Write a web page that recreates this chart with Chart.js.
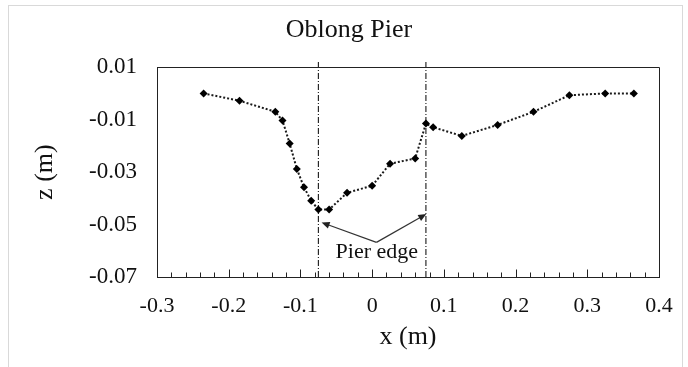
<!DOCTYPE html>
<html>
<head>
<meta charset="utf-8">
<script src="https://cdn.jsdelivr.net/npm/chart.js@4.4.0/dist/chart.umd.min.js"></script>
<style>
  html, body { margin: 0; padding: 0; background: #fff; }
  #wrap { width: 688px; height: 367px; }
</style>
</head>
<body>
<div id="wrap"><canvas id="profile" width="688" height="367"></canvas></div>
<script>
// bed profile across the scour hole
const xPos = [-0.235, -0.185, -0.135, -0.125, -0.115, -0.105, -0.095, -0.085, -0.075, -0.06, -0.035,
              0, 0.025, 0.06, 0.075, 0.085, 0.125, 0.175, 0.225, 0.275, 0.325, 0.365];
const zBed = [0.0, -0.0028, -0.007, -0.0103, -0.0191, -0.0288, -0.0358, -0.0409, -0.0443, -0.0443, -0.0379,
              -0.0352, -0.0268, -0.0248, -0.0115, -0.0129, -0.0162, -0.012, -0.007, -0.0007, 0.0, 0.0];

// pier faces
const pierEdges = [-0.075, 0.075];

const xTicks = [-0.3, -0.2, -0.1, 0, 0.1, 0.2, 0.3, 0.4];
const yTicks = [-0.07, -0.05, -0.03, -0.01, 0.01];

// callout
const edgeLabel = 'Pier edge';
const edgeLabelAt = [0.0065, -0.0607];
const arrowTail = [0.006, -0.0568];
const arrowTips = [[-0.0705, -0.0492], [0.0755, -0.046]];

const SERIF = '"Liberation Serif", "Times New Roman", serif';
const INK = '#111';
const AXIS = '#222';

const pageFrame = {
  id: 'pageFrame',
  beforeDraw(chart) {
    const ctx = chart.ctx;
    ctx.save();
    ctx.strokeStyle = '#d9d9d9';
    ctx.lineWidth = 1;
    ctx.strokeRect(8.5, 5.5, 674, 362);
    ctx.restore();
  }
};

// top and right edges of the plot box, plus inward ticks on x
const plotBox = {
  id: 'plotBox',
  afterDraw(chart) {
    const { ctx, chartArea: a, scales: { x } } = chart;
    ctx.save();
    ctx.strokeStyle = AXIS;
    ctx.lineWidth = 1;
    ctx.beginPath();
    ctx.moveTo(Math.round(a.left) + 0.5, Math.round(a.top) + 0.5);
    ctx.lineTo(Math.round(a.right) + 0.5, Math.round(a.top) + 0.5);
    ctx.lineTo(Math.round(a.right) + 0.5, Math.round(a.bottom) + 0.5);
    const base = Math.round(a.bottom) + 0.5;
    for (let i = -15; i <= 20; i++) {
      const px = Math.round(x.getPixelForValue(i * 0.02)) + 0.5;
      const len = i % 5 === 0 ? 8 : 5;
      ctx.moveTo(px, base);
      ctx.lineTo(px, base - len);
    }
    ctx.stroke();
    ctx.restore();
  }
};

const edgeCallout = {
  id: 'edgeCallout',
  afterDatasetsDraw(chart) {
    const { ctx, scales: { x, y } } = chart;
    const tx = x.getPixelForValue(arrowTail[0]);
    const ty = y.getPixelForValue(arrowTail[1]);
    ctx.save();
    ctx.strokeStyle = '#333';
    ctx.fillStyle = '#222';
    ctx.lineWidth = 1.2;
    arrowTips.forEach(([vx, vy]) => {
      const hx = x.getPixelForValue(vx);
      const hy = y.getPixelForValue(vy);
      const ang = Math.atan2(hy - ty, hx - tx);
      ctx.beginPath();
      ctx.moveTo(tx, ty);
      ctx.lineTo(hx - 6 * Math.cos(ang), hy - 6 * Math.sin(ang));
      ctx.stroke();
      ctx.beginPath();
      ctx.moveTo(hx, hy);
      ctx.lineTo(hx - 8 * Math.cos(ang) + 3.5 * Math.sin(ang), hy - 8 * Math.sin(ang) - 3.5 * Math.cos(ang));
      ctx.lineTo(hx - 8 * Math.cos(ang) - 3.5 * Math.sin(ang), hy - 8 * Math.sin(ang) + 3.5 * Math.cos(ang));
      ctx.closePath();
      ctx.fill();
    });
    ctx.fillStyle = INK;
    ctx.font = '22px ' + SERIF;
    ctx.textAlign = 'center';
    ctx.textBaseline = 'middle';
    ctx.fillText(edgeLabel, x.getPixelForValue(edgeLabelAt[0]), y.getPixelForValue(edgeLabelAt[1]));
    ctx.restore();
  }
};

new Chart(document.getElementById('profile'), {
  type: 'scatter',
  data: {
    datasets: [
      {
        data: xPos.map((v, i) => ({ x: v, y: zBed[i] })),
        showLine: true,
        borderColor: '#1a1a1a',
        borderWidth: 2,
        borderDash: [2, 2],
        pointStyle: 'rectRot',
        pointRadius: 4,
        pointBackgroundColor: '#000',
        pointBorderColor: '#000',
        pointBorderWidth: 0
      },
      ...pierEdges.map(v => ({
        data: [{ x: v, y: -0.07 }, { x: v, y: 0.0125 }],
        showLine: true,
        borderColor: '#000',
        borderWidth: 1,
        borderDash: [6, 2, 1, 2],
        pointRadius: 0,
        clip: false
      }))
    ]
  },
  options: {
    responsive: false,
    animation: false,
    devicePixelRatio: 1,
    layout: { padding: { left: 39, right: 29, top: 0, bottom: 0 } },
    plugins: {
      legend: { display: false },
      tooltip: { enabled: false },
      title: {
        display: true,
        text: 'Oblong Pier',
        color: INK,
        font: { family: SERIF, size: 26, weight: 'normal' },
        padding: { top: 15, bottom: 21 }
      }
    },
    scales: {
      x: {
        type: 'linear',
        min: -0.3,
        max: 0.4,
        afterBuildTicks: s => { s.ticks = xTicks.map(v => ({ value: v })); },
        afterFit: s => { s.height = 90; },
        ticks: {
          callback: v => (v === 0 ? '0' : v.toFixed(1)),
          color: INK,
          font: { family: SERIF, size: 22 },
          padding: 8,
          maxRotation: 0,
          autoSkip: false
        },
        grid: { display: false },
        border: { display: true, color: AXIS, width: 1 },
        title: {
          display: true,
          text: 'x (m)',
          color: INK,
          font: { family: SERIF, size: 26 },
          padding: { top: 0, bottom: 14 }
        }
      },
      y: {
        min: -0.07,
        max: 0.01,
        afterBuildTicks: s => { s.ticks = yTicks.map(v => ({ value: v })); },
        afterFit: s => { s.width = 118; },
        ticks: {
          callback: v => v.toFixed(2),
          color: INK,
          font: { family: SERIF, size: 23 },
          padding: 12
        },
        grid: { display: false },
        border: { display: true, color: AXIS, width: 1 },
        title: {
          display: true,
          text: 'z (m)',
          color: INK,
          font: { family: SERIF, size: 26 },
          padding: { top: -9, bottom: 0 }
        }
      }
    }
  },
  plugins: [pageFrame, plotBox, edgeCallout]
});
</script>
</body>
</html>
